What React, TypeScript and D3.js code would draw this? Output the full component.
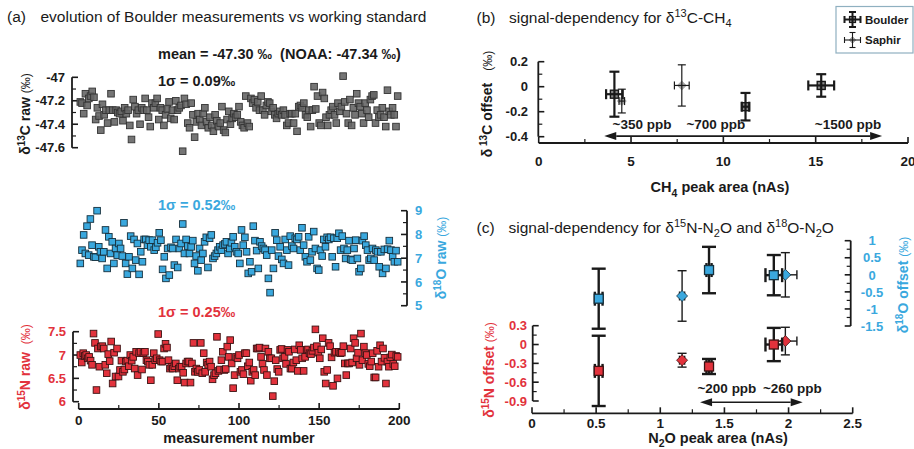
import React from 'react';
import * as d3 from 'd3';

const d13cRaw = [
  -47.21, -47.22, -47.31, -47.14, -47.24, -47.18, -47.16, -47.12, -47.17, -47.36,
  -47.26, -47.33, -47.45, -47.23, -47.32, -47.28, -47.39, -47.28, -47.14, -47.28,
  -47.38, -47.28, -47.3, -47.31, -47.29, -47.37, -47.26, -47.31, -47.28, -47.41,
  -47.53, -47.19, -47.25, -47.31, -47.28, -47.4, -47.26, -47.28, -47.18, -47.28,
  -47.34, -47.42, -47.22, -47.26, -47.22, -47.18, -47.36, -47.26, -47.28, -47.41,
  -47.32, -47.27, -47.21, -47.35, -47.28, -47.36, -47.2, -47.28, -47.26, -47.24,
  -47.63, -47.18, -47.23, -47.39, -47.43, -47.22, -47.32, -47.51, -47.38, -47.31,
  -47.36, -47.41, -47.31, -47.26, -47.38, -47.43, -47.34, -47.41, -47.46, -47.32,
  -47.37, -47.42, -47.39, -47.25, -47.45, -47.47, -47.36, -47.29, -47.4, -47.35,
  -47.31, -47.34, -47.32, -47.25, -47.38, -47.41, -47.43, -47.16, -47.39, -47.42,
  -47.18, -47.22, -47.19, -47.26, -47.21, -47.28, -47.16, -47.28, -47.32, -47.24,
  -47.21, -47.22, -47.29, -47.26, -47.32, -47.35, -47.31, -47.29, -47.32, -47.28,
  -47.32, -47.41, -47.39, -47.31, -47.31, -47.39, -47.31, -47.46, -47.25, -47.24,
  -47.26, -47.22, -47.32, -47.34, -47.28, -47.42, -47.28, -47.08, -47.27, -47.16,
  -47.39, -47.41, -47.13, -47.18, -47.34, -47.41, -47.32, -47.28, -47.25, -47.32,
  -47.39, -47.22, -47.29, -47.25, -46.99, -47.21, -47.31, -47.39, -47.19, -47.41,
  -47.26, -47.32, -47.14, -47.22, -47.25, -47.31, -47.39, -47.22, -47.28, -47.34,
  -47.19, -47.16, -47.15, -47.39, -47.28, -47.34, -47.32, -47.26, -47.34, -47.42,
  -47.11, -47.29, -47.32, -47.26, -47.32, -47.42, -47.16,
];

const d18oRaw = [
  6.78, 7.34, 7.98, 7.2, 8.35, 7.13, 8.65, 7.55, 7.06, 7.04,
  9.0, 7.48, 7.27, 6.99, 7.27, 8.19, 6.57, 7.9, 7.2, 7.69,
  6.78, 7.41, 7.13, 7.62, 7.41, 7.09, 8.49, 6.78, 6.33, 7.06,
  7.93, 6.57, 7.79, 6.92, 7.62, 6.32, 7.27, 6.85, 7.79, 7.79,
  7.55, 7.76, 7.48, 7.76, 7.34, 7.46, 7.65, 8.07, 7.76, 6.53,
  7.06, 6.15, 7.41, 6.29, 7.46, 7.41, 6.71, 7.79, 6.61, 7.41,
  7.62, 8.44, 7.2, 7.79, 7.51, 7.2, 7.48, 7.74, 6.78, 7.09,
  6.47, 7.41, 6.92, 7.2, 7.69, 7.88, 6.61, 7.84, 7.98, 6.99,
  7.09, 7.2, 7.34, 7.48, 7.34, 7.55, 7.6, 7.69, 7.2, 7.41,
  7.65, 7.9, 7.48, 7.27, 7.2, 6.78, 8.19, 7.55, 7.88, 7.27,
  6.36, 6.85, 6.43, 8.35, 7.74, 7.32, 6.57, 7.69, 7.51, 7.41,
  7.34, 7.13, 6.15, 5.55, 7.34, 6.57, 8.07, 7.76, 7.09, 7.48,
  6.95, 6.78, 7.79, 7.34, 6.71, 7.93, 7.51, 7.41, 7.84, 7.79,
  7.9, 7.34, 8.28, 7.55, 7.06, 6.85, 7.9, 6.92, 7.27, 8.12,
  7.41, 6.57, 6.5, 7.34, 7.09, 7.79, 7.48, 7.88, 7.79, 7.88,
  7.06, 7.84, 6.64, 7.84, 8.05, 7.34, 7.93, 7.41, 6.99, 7.34,
  7.74, 6.95, 6.92, 7.41, 7.76, 6.99, 6.43, 6.57, 7.74, 7.93,
  7.55, 7.34, 6.92, 6.99, 7.41, 6.92, 7.34, 7.27, 6.64, 7.27,
  6.36, 7.37, 6.57, 7.38, 7.74, 7.34, 7.06, 6.85, 7.32, 6.85,
];

const d15nRaw = [
  7.0, 6.84, 7.04, 6.98, 7.0, 6.93, 6.96, 6.88, 6.79, 7.46,
  7.26, 6.25, 7.14, 6.75, 7.18, 7.19, 7.14, 6.79, 6.61, 7.02,
  6.87, 7.29, 6.39, 7.05, 6.54, 7.14, 6.54, 6.68, 6.88, 6.64,
  6.69, 6.86, 6.88, 6.76, 7.0, 6.88, 6.96, 6.71, 7.07, 6.57,
  7.04, 7.07, 6.69, 7.04, 7.07, 6.89, 6.86, 6.79, 6.46, 6.79,
  7.04, 6.89, 6.93, 7.45, 6.89, 6.86, 6.86, 7.14, 7.24, 7.16,
  6.89, 6.71, 6.75, 6.71, 6.76, 6.82, 6.46, 6.71, 6.75, 6.75,
  6.62, 6.41, 6.82, 6.86, 6.86, 6.41, 6.82, 7.26, 6.64, 6.71,
  6.64, 6.68, 7.26, 6.61, 7.04, 6.64, 6.84, 6.79, 6.86, 6.75,
  6.48, 6.57, 6.61, 7.39, 6.66, 6.69, 6.89, 7.07, 6.68, 6.7,
  7.18, 6.96, 7.32, 6.82, 6.29, 6.57, 6.96, 6.93, 7.0, 6.64,
  6.68, 6.59, 7.04, 7.04, 6.76, 6.84, 6.45, 6.64, 6.68, 6.57,
  7.14, 7.14, 7.16, 6.96, 6.81, 6.68, 7.14, 6.57, 7.07, 6.93,
  6.93, 6.12, 6.44, 6.89, 6.7, 6.64, 7.11, 7.13, 6.93, 6.96,
  6.81, 7.11, 7.07, 6.71, 6.71, 6.84, 7.12, 6.89, 6.66, 7.21,
  7.11, 6.93, 6.66, 6.96, 7.11, 7.12, 7.04, 7.02, 7.09, 7.16,
  7.55, 7.19, 7.05, 6.93, 7.12, 7.36, 6.64, 6.39, 6.68, 7.26,
  7.19, 6.95, 6.34, 7.05, 7.07, 6.5, 7.07, 7.04, 7.05, 7.19,
  6.82, 6.57, 6.82, 6.82, 7.14, 6.84, 7.36, 7.26, 6.93, 7.05,
  6.79, 7.46, 6.89, 7.18, 7.04, 7.0, 6.81, 6.76, 6.86, 7.04,
  6.52, 6.52, 7.09, 6.75, 7.21, 6.86, 7.14, 6.94, 6.39, 6.86,
  6.75, 6.95, 7.01, 6.81, 6.76, 6.98, 6.96,
];

// (b) CH4 signal dependency
const ch4BoulderArea = [4.1, 11.2, 15.3];
const ch4BoulderAreaErr = [0.45, 0.2, 0.7];
const ch4BoulderOffset = [-0.06, -0.16, 0.01];
const ch4BoulderOffsetErr = [0.18, 0.11, 0.09];
const ch4SaphirArea = [4.5, 7.75];
const ch4SaphirAreaErr = [0.15, 0.4];
const ch4SaphirOffset = [-0.115, 0.01];
const ch4SaphirOffsetErr = [0.095, 0.165];
const ch4Arrow = [3.55, 18.6];
const ch4ArrowOffset = -0.395;
const ch4Labels = ['~350 ppb', '~700 ppb', '~1500 ppb'];
const ch4LabelArea = [4.0, 8.0, 14.95];

// (c) N2O signal dependency
const n2oBoulderArea = [0.52, 1.38, 1.885];
const n2oBoulderAreaErr = [0.03, 0.02, 0.065];
const d18oBoulderOffset = [-0.7, 0.14, -0.01];
const d18oBoulderErr = [0.88, 0.68, 0.59];
const d15nBoulderOffset = [-0.42, -0.35, 0.0];
const d15nBoulderErr = [0.56, 0.12, 0.265];
const n2oSaphirArea = [1.17, 1.975];
const n2oSaphirAreaErr = [0.02, 0.09];
const d18oSaphirOffset = [-0.62, 0.0];
const d18oSaphirErr = [0.74, 0.65];
const d15nSaphirOffset = [-0.25, 0.055];
const d15nSaphirErr = [0.11, 0.22];
const n2oArrow = [1.31, 2.11];
const n2oArrowOffset = -0.92;
const n2oLabels = ['~200 ppb', '~260 ppb'];
const n2oLabelArea = [1.29, 1.8];

// ticks
const aXTicks = [0, 50, 100, 150, 200];
const aXMinor = [25, 75, 125, 175];
const d13cTicks = [-47, -47.2, -47.4, -47.6];
const d13cMinor = [-47.1, -47.3, -47.5];
const d18oTicks = [5, 6, 7, 8, 9];
const d18oMinor = [5.5, 6.5, 7.5, 8.5];
const d15nTicks = [6, 6.5, 7, 7.5];
const d15nMinor = [6.25, 6.75, 7.25];
const bXTicks = [0, 5, 10, 15, 20];
const bXMinor = [2.5, 7.5, 12.5, 17.5];
const bYTicks = [-0.4, -0.2, 0, 0.2];
const bYMinor = [-0.3, -0.1, 0.1];
const cXTicks = [0, 0.5, 1, 1.5, 2, 2.5];
const cXMinor = [0.25, 0.75, 1.25, 1.75, 2.25];
const c15Ticks = [-0.9, -0.6, -0.3, 0, 0.3];
const c15Minor = [-0.75, -0.45, -0.15, 0.15];
const c18Ticks = [-1.5, -1, -0.5, 0, 0.5, 1];
const c18Minor = [-1.25, -0.75, -0.25, 0.25, 0.75];

const FONT = '"Liberation Sans", Arial, sans-serif';
const BLUE = '#3aa8de';
const RED = '#e2323c';
const INK = '#1a1a1a';

const xA = d3.scaleLinear().domain([0, 200]).range([78.7, 399.3]);
const yC = d3.scaleLinear().domain([-47.6, -47]).range([147.7, 77.3]);
const yO = d3.scaleLinear().domain([5, 9]).range([305.7, 210.7]);
const yN = d3.scaleLinear().domain([6, 7.5]).range([401.7, 331.7]);

const xB = d3.scaleLinear().domain([0, 20]).range([538.7, 908]);
const yB = d3.scaleLinear().domain([-0.4, 0.2]).range([136.7, 61.7]);

const xC = d3.scaleLinear().domain([0, 2.5]).range([532, 852.7]);
const yC15 = d3.scaleLinear().domain([-0.9, 0.3]).range([401, 325.7]);
const yC18 = d3.scaleLinear().domain([-1.5, 1]).range([326, 240.7]);

const measNo = (n: number) => d3.range(n).map(i => 1 + (i * 198) / (n - 1));

function VAxis({ x, scale, major, minor, dir, labelX, anchor, color }: any) {
  const [a, b] = scale.domain();
  return (
    <g>
      <line x1={x} x2={x} y1={scale(a)} y2={scale(b)} stroke={INK} strokeWidth={1.8} />
      {major.map((v: number) => (
        <line key={'M' + v} x1={x} x2={x + dir * 6} y1={scale(v)} y2={scale(v)} stroke={INK} strokeWidth={1.6} />
      ))}
      {minor.map((v: number) => (
        <line key={'m' + v} x1={x} x2={x + dir * 4} y1={scale(v)} y2={scale(v)} stroke={INK} strokeWidth={1.2} />
      ))}
      {major.map((v: number) => (
        <text key={'t' + v} x={labelX} y={scale(v)} dy="0.36em" textAnchor={anchor} fill={color} fontWeight="bold" fontSize={13}>
          {String(v)}
        </text>
      ))}
    </g>
  );
}

function HAxis({ y, scale, major, minor, labelY }: any) {
  const [a, b] = scale.domain();
  return (
    <g>
      <line x1={scale(a)} x2={scale(b)} y1={y} y2={y} stroke={INK} strokeWidth={1.8} />
      {major.map((v: number) => (
        <line key={'M' + v} x1={scale(v)} x2={scale(v)} y1={y} y2={y - 6} stroke={INK} strokeWidth={1.6} />
      ))}
      {minor.map((v: number) => (
        <line key={'m' + v} x1={scale(v)} x2={scale(v)} y1={y} y2={y - 4} stroke={INK} strokeWidth={1.2} />
      ))}
      {major.map((v: number) => (
        <text key={'t' + v} x={scale(v)} y={labelY} textAnchor="middle" fill={INK} fontWeight="bold" fontSize={13.5}>
          {String(v)}
        </text>
      ))}
    </g>
  );
}

function ErrCross({ cx, cy, x0, x1, y0, y1, sw, cap }: any) {
  const h = cap / 2;
  return (
    <g stroke={INK} strokeWidth={sw}>
      <line x1={cx} x2={cx} y1={y0} y2={y1} />
      <line x1={cx - h} x2={cx + h} y1={y0} y2={y0} />
      <line x1={cx - h} x2={cx + h} y1={y1} y2={y1} />
      <line x1={x0} x2={x1} y1={cy} y2={cy} />
      <line x1={x0} x2={x0} y1={cy - h} y2={cy + h} />
      <line x1={x1} x2={x1} y1={cy - h} y2={cy + h} />
    </g>
  );
}

function Square({ cx, cy, s, fill, stroke, sw = 1 }: any) {
  return <rect x={cx - s / 2} y={cy - s / 2} width={s} height={s} fill={fill} stroke={stroke} strokeWidth={sw} />;
}

function Diamond({ cx, cy, s, fill, stroke }: any) {
  const h = s / 2;
  return <path d={`M${cx},${cy - h}L${cx + h},${cy}L${cx},${cy + h}L${cx - h},${cy}Z`} fill={fill} stroke={stroke} strokeWidth={0.8} />;
}

function DoubleArrow({ x0, x1, y }: any) {
  const L = 12, w = 4;
  return (
    <g fill={INK}>
      <line x1={x0 + L} x2={x1 - L} y1={y} y2={y} stroke={INK} strokeWidth={1.6} />
      <path d={`M${x0},${y}L${x0 + L},${y - w}L${x0 + L},${y + w}Z`} />
      <path d={`M${x1},${y}L${x1 - L},${y - w}L${x1 - L},${y + w}Z`} />
    </g>
  );
}

function Scatter({ values, y, fill, stroke, opacity }: any) {
  const xs = measNo(values.length);
  return (
    <g>
      {values.map((v: number, i: number) => (
        <rect key={i} x={xA(xs[i]) - 3.3} y={y(v) - 3.3} width={6.6} height={6.6}
          fill={fill} fillOpacity={opacity} stroke={stroke} strokeWidth={0.9} />
      ))}
    </g>
  );
}

export default function App() {
  return (
    <svg width={914} height={449} style={{ position: 'absolute', left: 0, top: 0, background: '#fff' }} fontFamily={FONT}>
      {/* ---------- panel (a) ---------- */}
      <text x={7} y={21.5} fontSize={15.5} fill={INK}>(a)</text>
      <text x={40.5} y={21.5} fontSize={15.5} fill={INK}>evolution of Boulder measurements vs working standard</text>
      <text x={158} y={58.5} fontSize={14.5} fontWeight="bold" fill={INK} style={{ whiteSpace: 'pre' }}>mean = -47.30 ‰  (NOAA: -47.34 ‰)</text>
      <text x={158} y={86} fontSize={14.5} fontWeight="bold" fill={INK}>1σ = 0.09‰</text>
      <text x={158} y={210} fontSize={14.5} fontWeight="bold" fill={BLUE}>1σ = 0.52‰</text>
      <text x={158} y={316.5} fontSize={14.5} fontWeight="bold" fill={RED}>1σ = 0.25‰</text>

      <VAxis x={72} scale={yC} major={d13cTicks} minor={d13cMinor} dir={1} labelX={65} anchor="end" color={INK} />
      <VAxis x={407} scale={yO} major={d18oTicks} minor={d18oMinor} dir={-1} labelX={415} anchor="start" color={BLUE} />
      <VAxis x={73} scale={yN} major={d15nTicks} minor={d15nMinor} dir={1} labelX={66} anchor="end" color={RED} />
      <HAxis y={409} scale={xA} major={aXTicks} minor={aXMinor} labelY={425} />
      <text x={239} y={443} textAnchor="middle" fontSize={14.5} fontWeight="bold" fill={INK}>measurement number</text>

      <text transform="translate(30,114) rotate(-90)" textAnchor="middle" fontSize={14} fontWeight="bold" fill={INK}>
        δ<tspan dy={-5} fontSize={10}>13</tspan><tspan dy={5}>C raw </tspan><tspan fontSize={12} fontWeight="normal">(‰)</tspan>
      </text>
      <text transform="translate(446,258) rotate(-90)" textAnchor="middle" fontSize={14} fontWeight="bold" fill={BLUE}>
        δ<tspan dy={-5} fontSize={10}>18</tspan><tspan dy={5}>O raw </tspan><tspan fontSize={12} fontWeight="normal">(‰)</tspan>
      </text>
      <text transform="translate(30,367) rotate(-90)" textAnchor="middle" fontSize={14} fontWeight="bold" fill={RED} style={{ whiteSpace: 'pre' }}>
        δ<tspan dy={-5} fontSize={10}>15</tspan><tspan dy={5}>N raw  </tspan><tspan fontSize={12} fontWeight="normal">(‰)</tspan>
      </text>

      <Scatter values={d13cRaw} y={yC} fill="#666" stroke="#333" opacity={0.9} />
      <Scatter values={d18oRaw} y={yO} fill={BLUE} stroke="#16303d" opacity={1} />
      <Scatter values={d15nRaw} y={yN} fill={RED} stroke="#3a1212" opacity={1} />

      {/* ---------- panel (b) ---------- */}
      <text x={476.5} y={22.5} fontSize={15.5} fill={INK}>(b)</text>
      <text x={509} y={22.5} fontSize={15.5} fill={INK}>
        signal-dependency for δ<tspan dy={-6} fontSize={11}>13</tspan><tspan dy={6}>C-CH</tspan><tspan dy={4} fontSize={11}>4</tspan>
      </text>
      <VAxis x={538.3} scale={yB} major={bYTicks} minor={bYMinor} dir={1} labelX={528} anchor="end" color={INK} />
      <HAxis y={143} scale={xB} major={bXTicks} minor={bXMinor} labelY={166} />
      <text x={720} y={192} textAnchor="middle" fontSize={14.5} fontWeight="bold" fill={INK}>
        CH<tspan dy={5} fontSize={10.5}>4</tspan><tspan dy={-5}> peak area (nAs)</tspan>
      </text>
      <text transform="translate(492,104) rotate(-90)" textAnchor="middle" fontSize={14} fontWeight="bold" fill={INK}>
        δ<tspan dy={-5} fontSize={10}> 13</tspan><tspan dy={5}>C offset</tspan><tspan dx={12} fontSize={12} fontWeight="normal">(‰)</tspan>
      </text>

      {ch4SaphirArea.map((a, i) => (
        <g key={'bs' + i}>
          <Diamond cx={xB(a)} cy={yB(ch4SaphirOffset[i])} s={9} fill="#a8a8a8" stroke="#a8a8a8" />
          <ErrCross cx={xB(a)} cy={yB(ch4SaphirOffset[i])}
            x0={xB(a - ch4SaphirAreaErr[i])} x1={xB(a + ch4SaphirAreaErr[i])}
            y0={yB(ch4SaphirOffset[i] + ch4SaphirOffsetErr[i])} y1={yB(ch4SaphirOffset[i] - ch4SaphirOffsetErr[i])}
            sw={1.2} cap={8} />
        </g>
      ))}
      {ch4BoulderArea.map((a, i) => (
        <g key={'bb' + i}>
          <Square cx={xB(a)} cy={yB(ch4BoulderOffset[i])} s={8} fill="#8a8a8a" stroke={INK} sw={1.4} />
          <ErrCross cx={xB(a)} cy={yB(ch4BoulderOffset[i])}
            x0={xB(a - ch4BoulderAreaErr[i])} x1={xB(a + ch4BoulderAreaErr[i])}
            y0={yB(ch4BoulderOffset[i] + ch4BoulderOffsetErr[i])} y1={yB(ch4BoulderOffset[i] - ch4BoulderOffsetErr[i])}
            sw={2.2} cap={10} />
        </g>
      ))}
      <DoubleArrow x0={xB(ch4Arrow[0])} x1={xB(ch4Arrow[1])} y={yB(ch4ArrowOffset)} />
      {ch4Labels.map((t, i) => (
        <text key={t} x={xB(ch4LabelArea[i])} y={yB(-0.34)} fontSize={13.5} fontWeight="bold" fill={INK}>{t}</text>
      ))}

      {/* legend */}
      <rect x={836} y={6.5} width={77} height={46.5} fill="#fff" stroke="#8fb0c0" strokeWidth={1.2} />
      <Square cx={852.5} cy={19.5} s={6} fill="#8a8a8a" stroke={INK} sw={1.2} />
      <ErrCross cx={852.5} cy={19.5} x0={844.5} x1={860.5} y0={12} y1={27} sw={2} cap={7} />
      <text x={865} y={23.5} fontSize={11.5} fontWeight="bold" fill={INK}>Boulder</text>
      <Diamond cx={852.5} cy={40} s={7} fill="#a8a8a8" stroke="#a8a8a8" />
      <ErrCross cx={852.5} cy={40} x0={844.5} x1={860.5} y0={32.5} y1={47.5} sw={1.1} cap={6} />
      <text x={865} y={44} fontSize={11.5} fontWeight="bold" fill={INK}>Saphir</text>

      {/* ---------- panel (c) ---------- */}
      <text x={476.5} y={233} fontSize={15.5} fill={INK}>(c)</text>
      <text x={508.5} y={233} fontSize={15.5} fill={INK}>
        signal-dependency for δ<tspan dy={-6} fontSize={11}>15</tspan><tspan dy={6}>N-N</tspan><tspan dy={4} fontSize={11}>2</tspan>
        <tspan dy={-4}>O and δ</tspan><tspan dy={-6} fontSize={11}>18</tspan><tspan dy={6}>O-N</tspan><tspan dy={4} fontSize={11}>2</tspan><tspan dy={-4}>O</tspan>
      </text>
      <VAxis x={532.7} scale={yC15} major={c15Ticks} minor={c15Minor} dir={1} labelX={527} anchor="end" color={RED} />
      <VAxis x={850.7} scale={yC18} major={c18Ticks} minor={c18Minor} dir={-1} labelX={872} anchor="middle" color={BLUE} />
      <HAxis y={413.3} scale={xC} major={cXTicks} minor={cXMinor} labelY={428} />
      <text x={718} y={443} textAnchor="middle" fontSize={14.5} fontWeight="bold" fill={INK}>
        N<tspan dy={4} fontSize={10.5}>2</tspan><tspan dy={-4}>O peak area (nAs)</tspan>
      </text>
      <text transform="translate(494,370) rotate(-90)" textAnchor="middle" fontSize={14} fontWeight="bold" fill={RED}>
        δ<tspan dy={-5} fontSize={10}>15</tspan><tspan dy={5}>N offset </tspan><tspan fontSize={12} fontWeight="normal">(‰)</tspan>
      </text>
      <text transform="translate(908,285) rotate(-90)" textAnchor="middle" fontSize={14} fontWeight="bold" fill={BLUE}>
        δ<tspan dy={-5} fontSize={10}>18</tspan><tspan dy={5}>O offset </tspan><tspan fontSize={12} fontWeight="normal">(‰)</tspan>
      </text>

      {n2oSaphirArea.map((a, i) => (
        <g key={'cs' + i}>
          <ErrCross cx={xC(a)} cy={yC18(d18oSaphirOffset[i])}
            x0={xC(a - n2oSaphirAreaErr[i])} x1={xC(a + n2oSaphirAreaErr[i])}
            y0={yC18(d18oSaphirOffset[i] + d18oSaphirErr[i])} y1={yC18(d18oSaphirOffset[i] - d18oSaphirErr[i])}
            sw={1.4} cap={9} />
          <Diamond cx={xC(a)} cy={yC18(d18oSaphirOffset[i])} s={11} fill={BLUE} stroke="#16303d" />
          <ErrCross cx={xC(a)} cy={yC15(d15nSaphirOffset[i])}
            x0={xC(a - n2oSaphirAreaErr[i])} x1={xC(a + n2oSaphirAreaErr[i])}
            y0={yC15(d15nSaphirOffset[i] + d15nSaphirErr[i])} y1={yC15(d15nSaphirOffset[i] - d15nSaphirErr[i])}
            sw={1.4} cap={9} />
          <Diamond cx={xC(a)} cy={yC15(d15nSaphirOffset[i])} s={11} fill={RED} stroke="#3a1212" />
        </g>
      ))}
      {n2oBoulderArea.map((a, i) => (
        <g key={'cb' + i}>
          <ErrCross cx={xC(a)} cy={yC18(d18oBoulderOffset[i])}
            x0={xC(a - n2oBoulderAreaErr[i])} x1={xC(a + n2oBoulderAreaErr[i])}
            y0={yC18(d18oBoulderOffset[i] + d18oBoulderErr[i])} y1={yC18(d18oBoulderOffset[i] - d18oBoulderErr[i])}
            sw={2.4} cap={14} />
          <Square cx={xC(a)} cy={yC18(d18oBoulderOffset[i])} s={9} fill={BLUE} stroke="#16303d" sw={1.3} />
          <ErrCross cx={xC(a)} cy={yC15(d15nBoulderOffset[i])}
            x0={xC(a - n2oBoulderAreaErr[i])} x1={xC(a + n2oBoulderAreaErr[i])}
            y0={yC15(d15nBoulderOffset[i] + d15nBoulderErr[i])} y1={yC15(d15nBoulderOffset[i] - d15nBoulderErr[i])}
            sw={2.4} cap={14} />
          <Square cx={xC(a)} cy={yC15(d15nBoulderOffset[i])} s={9} fill={RED} stroke="#3a1212" sw={1.3} />
        </g>
      ))}
      <DoubleArrow x0={xC(n2oArrow[0])} x1={xC(n2oArrow[1])} y={yC15(n2oArrowOffset)} />
      {n2oLabels.map((t, i) => (
        <text key={t} x={xC(n2oLabelArea[i])} y={yC15(-0.77)} fontSize={13.5} fontWeight="bold" fill={INK}>{t}</text>
      ))}
    </svg>
  );
}
